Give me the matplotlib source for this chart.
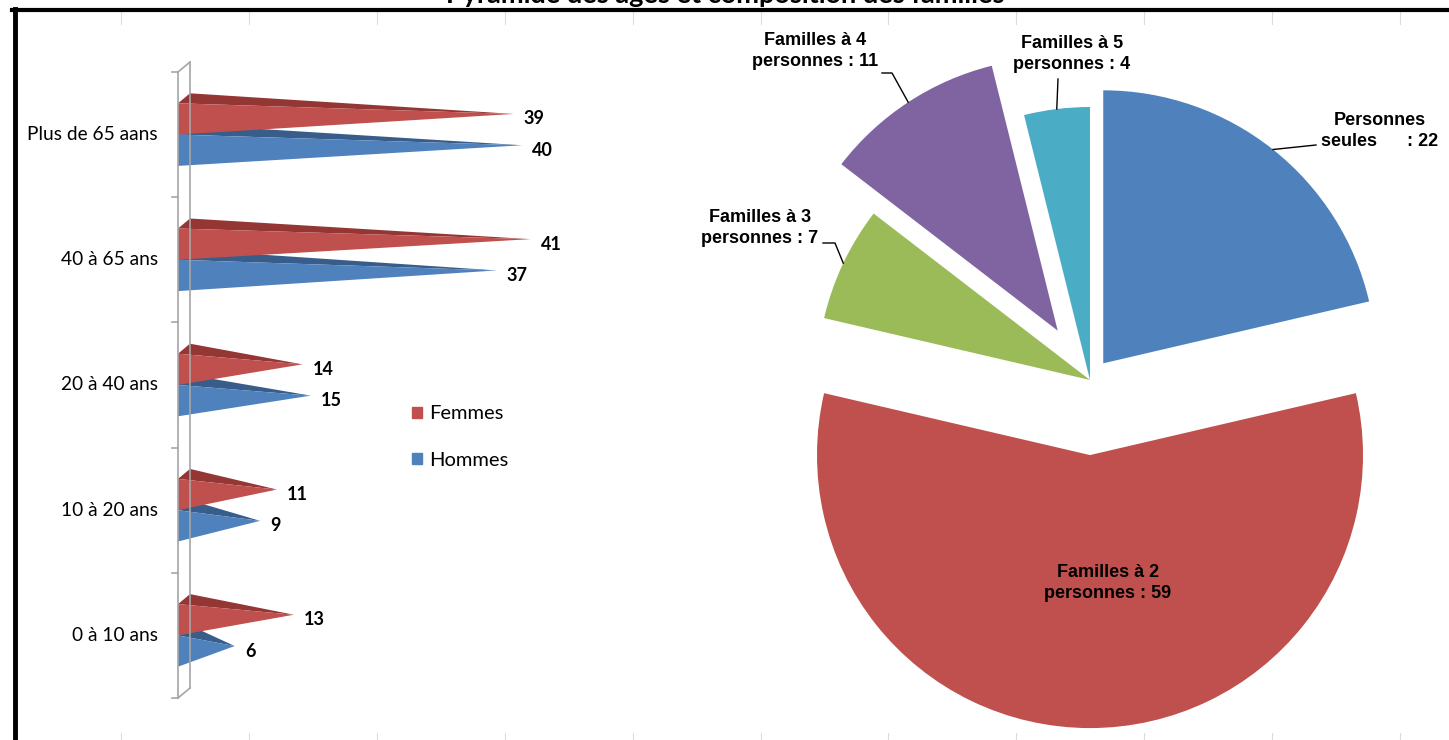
import matplotlib
matplotlib.use("Agg")
import matplotlib.pyplot as plt
from matplotlib.lines import Line2D
from matplotlib.patches import Patch
import numpy as np

# pyramide des ages
categories = ["0 à 10 ans", "10 à 20 ans", "20 à 40 ans", "40 à 65 ans", "Plus de 65 aans"]
femmes = [13, 11, 14, 41, 39]
hommes = [6, 9, 15, 37, 40]

# composition des familles
familles_noms = ["Personnes\nseules     ", "Familles à 2\npersonnes", "Familles à 3\npersonnes",
                 "Familles à 4\npersonnes", "Familles à 5\npersonnes"]
familles = [22, 59, 7, 11, 4]

titre = "Pyramide des âges et composition des familles"

W, H = 1449, 740
RED, RED_D = "#C0504D", "#943634"
BLUE, BLUE_D = "#4F81BD", "#385D8A"
pie_colors = ["#4F81BD", "#C0504D", "#9BBB59", "#8064A2", "#4BACC6"]
f_left = ["Lato", "DejaVu Sans"]
f_pie = ["Liberation Sans", "DejaVu Sans"]

fig = plt.figure(figsize=(W / 100, H / 100), dpi=100)

# ---- left : 3D pyramid bars ----
s = 8.45          # px per unit
zero = 184        # pixel of value 0
dx = 12 / s       # depth offset (x)
dy = 10 / 125.2   # depth offset (y)
h = 0.25          # bar thickness
ax1 = fig.add_axes([178 / W, 1 - 698 / H, (640 - 178) / W, (698 - 72) / H])
ax1.set_xlim((178 - zero) / s, (640 - zero) / s)
ax1.set_ylim(-0.5, len(categories) - 0.5)
ax1.axis("off")


def pyramid(ax, y0, v, col, col_d):
    y1 = y0 + h
    tip = (v, (y0 + y1) / 2 + dy / 2)
    top = [(-dx / 2, y1), (dx / 2, y1 + dy), tip]
    front = [(-dx / 2, y0), (-dx / 2, y1), tip]
    ax.fill(*zip(*top), color=col_d, lw=0, clip_on=False)
    ax.fill(*zip(*front), color=col, lw=0, clip_on=False)
    ax.text(v + 1.2, (y0 + y1) / 2, str(v), ha="left", va="center", fontsize=13,
            fontweight="bold", family=f_left, color="black")


for i, cat in enumerate(categories):
    pyramid(ax1, i - h, hommes[i], BLUE, BLUE_D)
    pyramid(ax1, i, femmes[i], RED, RED_D)
    ax1.text((158 - zero) / s, i, cat, ha="right", va="center", fontsize=13.8,
             family=f_left, color="black")

# wall
n = len(categories)
wc = "#A6A6A6"
ax1.plot([-dx / 2, -dx / 2], [-0.5, n - 0.5], color=wc, lw=1.2, clip_on=False)
ax1.plot([dx / 2, dx / 2], [-0.5 + dy, n - 0.5 + dy], color=wc, lw=1.2, clip_on=False)
for yb in [-0.5, n - 0.5]:
    ax1.plot([-dx / 2, dx / 2], [yb, yb + dy], color=wc, lw=1.2, clip_on=False)
for k in range(n + 1):
    ax1.plot([-dx / 2 - 6 / s, -dx / 2], [k - 0.5, k - 0.5], color=wc, lw=1.2, clip_on=False)

fig.legend(handles=[Patch(color=RED), Patch(color=BLUE)], labels=["Femmes", "Hommes"],
           loc="center left", bbox_to_anchor=(412 / W, 1 - 437 / H), frameon=False,
           prop={"family": f_left, "size": 14.5}, handlelength=0.5, handleheight=0.5,
           handletextpad=0.35, labelspacing=1.45, borderpad=0, borderaxespad=0)

# ---- right : exploded pie ----
cx, cy, R = 1090, 380, 273
px0, px1, py0, py1 = 690, W, 12, H
ax2 = fig.add_axes([px0 / W, 1 - py1 / H, (px1 - px0) / W, (py1 - py0) / H])
explode = [0.078, 0.275, 0.0, 0.216, 0.0]
wedges, _ = ax2.pie(familles, explode=explode, colors=pie_colors, startangle=90,
                    counterclock=False, radius=1, wedgeprops=dict(linewidth=0))
ax2.set_aspect("auto")
ax2.set_xlim((px0 - cx) / R, (px1 - cx) / R)
ax2.set_ylim((cy - py1) / R, (cy - py0) / R)
ax2.axis("off")


def pp(x, y):
    return (x - cx) / R, (cy - y) / R


label_pos = [(1380, 131), (1108, 583), (760, 228), (815, 51), (1072, 54)]
leaders = {0: [(1316, 145)], 2: [(823, 243), (835, 243)], 3: [(882, 73), (892, 73)],
           4: [(1058, 79)]}

for i, (nom, v) in enumerate(zip(familles_noms, familles)):
    x, y = pp(*label_pos[i])
    ax2.text(x, y, f"{nom} : {v}", ha="center", va="center", fontsize=13,
             fontweight="bold", family=f_pie, linespacing=1.25, multialignment="center")
    if i in leaders:
        w = wedges[i]
        th = np.deg2rad((w.theta1 + w.theta2) / 2)
        ex = w.center[0] + w.r * np.cos(th)
        ey = w.center[1] + w.r * np.sin(th)
        pts = [pp(*p) for p in leaders[i]] + [(ex, ey)]
        ax2.plot([p[0] for p in pts], [p[1] for p in pts], color="black", lw=1.0,
                 clip_on=False)

# ---- title, frame, sheet grid ----
fig.text(725 / W, 1 - 3 / H, titre, ha="center", va="baseline", fontsize=19.5,
         fontweight="bold", family=f_left)
for gx in np.arange(121, W, 127.9):
    fig.add_artist(Line2D([gx / W] * 2, [1 - 12 / H, 1 - 24 / H], color="#DCDCDC", lw=0.8))
    fig.add_artist(Line2D([gx / W] * 2, [0, 1 - 733 / H], color="#DCDCDC", lw=0.8))
fig.add_artist(Line2D([12 / W, 1], [1 - 10 / H] * 2, color="black", lw=3))
fig.add_artist(Line2D([14.5 / W] * 2, [0, 1 - 8.5 / H], color="black", lw=3.5))

fig.savefig("out.png", dpi=100)
